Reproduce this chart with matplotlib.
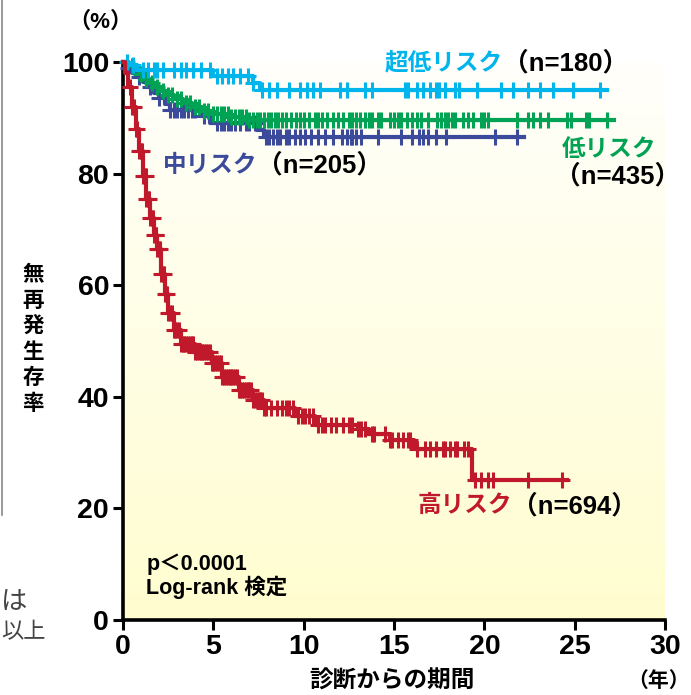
'''
Kaplan-Meier chart: relapse-free survival by risk group
'''
import numpy as np
from matplotlib import pyplot as plt
from matplotlib.colors import LinearSegmentedColormap

plt.rcParams['font.family'] = ['Liberation Sans', 'Noto Sans CJK JP', 'DejaVu Sans']

## step curves (years, %)
vlow_t = [0, 0.3, 0.8, 5.0, 7.2, 7.6]
vlow_s = [100, 99.4, 98.6, 97.5, 96.2, 95.0]
vlow_end = 26.8
vlow_cens = [0.2, 0.55, 1.1, 1.4, 1.7, 1.9, 2.2, 2.8, 3.2, 3.5, 3.9, 4.3, 4.8, 5.2, 5.5,
             5.8, 6.1, 6.5, 6.9, 7.2, 7.7, 8.1, 8.5, 9.2, 9.8, 10.2, 10.5, 10.9, 12.0,
             12.4, 13.4, 13.8, 15.6, 15.8, 16.3, 16.6, 17.0, 17.3, 17.5, 17.8, 18.4,
             18.6, 19.6, 20.9, 21.6, 22.4, 23.1, 23.8, 24.9, 26.4]

low_t = [0, 0.3, 0.6, 0.9, 1.2, 1.5, 1.8, 2.1, 2.4, 2.8, 3.3, 3.8, 4.4, 5.0, 6.0, 7.0]
low_s = [100, 99.3, 98.6, 97.8, 97.0, 96.2, 95.5, 94.8, 94.1, 93.3, 92.6, 91.9, 91.2,
         90.6, 90.1, 89.6]
low_end = 27.2
low_cens = [0.5, 1.0, 1.3, 1.6, 1.9, 2.2, 2.5, 2.7, 3.0, 3.2, 3.5, 3.7, 4.0, 4.2, 4.5,
            4.7, 5.0, 5.2, 5.4, 5.6, 5.8, 6.0, 6.2, 6.4, 6.6, 6.8, 7.0, 7.2, 7.4, 7.6,
            7.8, 8.0, 8.2, 8.4, 8.6, 8.8, 9.0, 9.3, 9.6, 9.8, 10.0, 10.3, 10.6, 10.8,
            11.0, 11.3, 11.6, 11.9, 12.2, 12.5, 12.7, 12.9, 13.1, 13.4, 13.6, 13.8,
            14.1, 14.3, 14.8, 15.0, 15.2, 15.4, 15.7, 16.0, 16.3, 16.5, 16.9, 17.4,
            17.6, 17.8, 18.0, 18.2, 18.4, 18.8, 19.1, 19.4, 19.8, 20.0, 20.2, 21.8,
            22.4, 22.7, 23.1, 23.5, 24.6, 24.8, 25.6, 25.8, 26.8]

mid_t = [0, 0.2, 0.5, 0.8, 1.1, 1.4, 1.7, 2.0, 2.3, 2.6, 4.3, 4.8, 7.4, 7.8]
mid_s = [100, 99.0, 98.0, 97.3, 96.4, 95.5, 94.5, 93.5, 92.5, 91.4, 90.3, 89.0, 87.8, 86.6]
mid_end = 22.2
mid_cens = [0.3, 0.9, 1.5, 2.0, 2.6, 2.8, 3.0, 3.2, 3.4, 3.6, 3.8, 4.0, 4.5, 5.2, 5.4,
            5.6, 5.8, 6.0, 6.2, 6.5, 6.8, 7.0, 7.3, 7.9, 8.1, 8.3, 8.5, 8.7, 9.0, 9.2,
            9.5, 9.8, 10.1, 10.4, 10.8, 11.2, 11.6, 12.1, 12.4, 12.6, 12.7, 12.9, 13.2,
            14.1, 15.4, 16.0, 16.4, 16.6, 16.9, 17.3, 17.9, 20.6, 21.8]

high_t = [0, 0.1, 0.3, 0.5, 0.7, 0.9, 1.1, 1.3, 1.5, 1.7, 1.9, 2.1, 2.3, 2.5, 2.8, 3.2,
          4.0, 4.9, 5.5, 6.4, 7.2, 7.8, 9.5, 10.6, 13.0, 13.6, 14.8, 16.1, 19.3]
high_s = [100, 98, 95.5, 92, 88, 84, 79.5, 75.5, 72, 69, 66.5, 62, 58.5, 55, 52, 49.5,
          48, 46, 43.5, 41.2, 39.4, 38, 36.5, 35, 34.2, 33.3, 32.2, 30.6, 25.1]
high_end = 24.6
high_cens = [0.4, 0.5, 0.6, 0.7, 0.8, 0.9, 1.0, 1.05, 1.1, 1.2, 1.25, 1.3, 1.4, 1.45,
             1.5, 1.6, 1.65, 1.7, 1.8, 1.85, 1.9, 2.0, 2.05, 2.1, 2.2, 2.25, 2.3, 2.4,
             2.45, 2.5, 2.6, 2.7, 2.8, 2.9, 3.0, 3.1, 3.2, 3.3, 3.4, 3.5, 3.6, 3.7, 3.8,
             3.9, 4.0, 4.1, 4.2, 4.3, 4.4, 4.5, 4.6, 4.7, 4.8, 4.9, 5.0, 5.1, 5.2, 5.3,
             5.4, 5.5, 5.6, 5.7, 5.8, 5.9, 6.0, 6.1, 6.2, 6.3, 6.4, 6.5, 6.6, 6.7, 6.8,
             6.9, 7.0, 7.1, 7.2, 7.3, 7.4, 7.5, 7.6, 7.7, 7.8, 7.9, 8.2, 8.5, 8.8, 9.0,
             9.2, 9.4, 9.7, 9.9, 10.1, 10.3, 10.5, 10.8, 11.0, 11.2, 11.5, 11.8, 12.2,
             12.5, 12.7, 13.0, 13.2, 13.4, 13.8, 13.9, 14.5, 14.8, 14.9, 15.2, 15.5,
             15.8, 15.9, 16.3, 16.7, 17.0, 17.3, 17.7, 17.8, 18.1, 18.4, 18.5, 18.9,
             19.1, 19.5, 19.8, 20.2, 20.5, 22.4, 24.3]

xticks = [0, 5, 10, 15, 20, 25, 30]
yticks = [0, 20, 40, 60, 80, 100]

c_vlow = '#00B4EC'
c_low = '#00A353'
c_mid = '#3C4A9C'
c_high = '#C0192B'


def km(ax, t, s, end, cens, color, z):
    tt = list(t) + [end]
    ss = list(s) + [s[-1]]
    ax.step(tt, ss, where='post', color=color, lw=3.0, zorder=z, clip_on=False)
    idx = np.searchsorted(t, cens, side='right') - 1
    cy = np.array(s)[idx]
    ax.plot(cens, cy, ls='none', marker='+', ms=12, mew=2.2, color=color,
            zorder=z, clip_on=False)


fig = plt.figure(figsize=(6.91, 6.95), dpi=100)
ax = fig.add_axes([123/691, 75/695, 542/691, 558/695])

bg = LinearSegmentedColormap.from_list('bg', ['#FFFDCF', '#FFFFFB'])
ax.imshow(np.linspace(0, 1, 256).reshape(-1, 1), extent=[0, 30, 0, 100],
          aspect='auto', origin='lower', cmap=bg, zorder=0)

km(ax, mid_t, mid_s, mid_end, mid_cens, c_mid, 3)
km(ax, low_t, low_s, low_end, low_cens, c_low, 4)
km(ax, vlow_t, vlow_s, vlow_end, vlow_cens, c_vlow, 5)
km(ax, high_t, high_s, high_end, high_cens, c_high, 6)

ax.set_xlim(0, 30)
ax.set_ylim(0, 100)
for sp in ['top', 'right']:
    ax.spines[sp].set_visible(False)
for sp in ['left', 'bottom']:
    ax.spines[sp].set_linewidth(2.6)
ax.set_xticks(xticks)
ax.set_yticks(yticks)
ax.tick_params(direction='out', length=7, width=2.2, labelsize=20.5, pad=3)
for lab in ax.get_xticklabels() + ax.get_yticklabels():
    lab.set_fontweight('bold')

## group labels
def label(x, y, name, n, color):
    t = ax.text(x, y, name, color=color, fontsize=17, fontweight='bold',
                va='center', ha='left', zorder=10)
    ax.annotate(n, xy=(1, 0.5), xycoords=t, va='center', ha='left',
                fontsize=18.5, fontweight='bold', color='black', zorder=10)

label(14.5, 99.8, '超低リスク', '（n=180）', c_vlow)
label(2.2, 81.5, '中リスク', '（n=205）', c_mid)
label(16.3, 20.5, '高リスク', '（n=694）', c_high)
ax.text(24.3, 84.3, '低リスク', color=c_low, fontsize=17, fontweight='bold',
        va='center', ha='left')
ax.text(23.9, 79.5, '（n=435）', color='black', fontsize=18.5, fontweight='bold',
        va='center', ha='left')

ax.text(1.3, 7.8, 'p＜0.0001\nLog-rank 検定', fontsize=15.5, fontweight='bold',
        va='center', ha='left', linespacing=1.05)

## axis titles
fig.text(100/691, 1 - 22/695, '（%）', fontsize=16, fontweight='bold',
         ha='center', va='center')
fig.text(33/691, 1 - 340/695, '\n'.join('無再発生存率'), fontsize=15.5,
         fontweight='bold', ha='center', va='center', linespacing=1.3)
fig.text(392/691, 1 - 681/695, '診断からの期間', fontsize=17, fontweight='bold',
         ha='center', va='center')
fig.text(690/691, 1 - 681/695, '（年）', fontsize=15, fontweight='bold',
         ha='right', va='center')

## page remnants on the left
fig.add_artist(plt.Line2D([2/691, 2/691], [1, 1 - 515/695], color='#888888', lw=1.2))
fig.text(1/691, 1 - 601/695, 'は', fontsize=19, color='#444444',
         ha='left', va='center', family=['Noto Sans CJK JP'])
fig.text(1/691, 1 - 632/695, '以上', fontsize=16, color='#444444',
         ha='left', va='center', family=['Noto Sans CJK JP'])

plt.savefig('out.png', dpi=100)
